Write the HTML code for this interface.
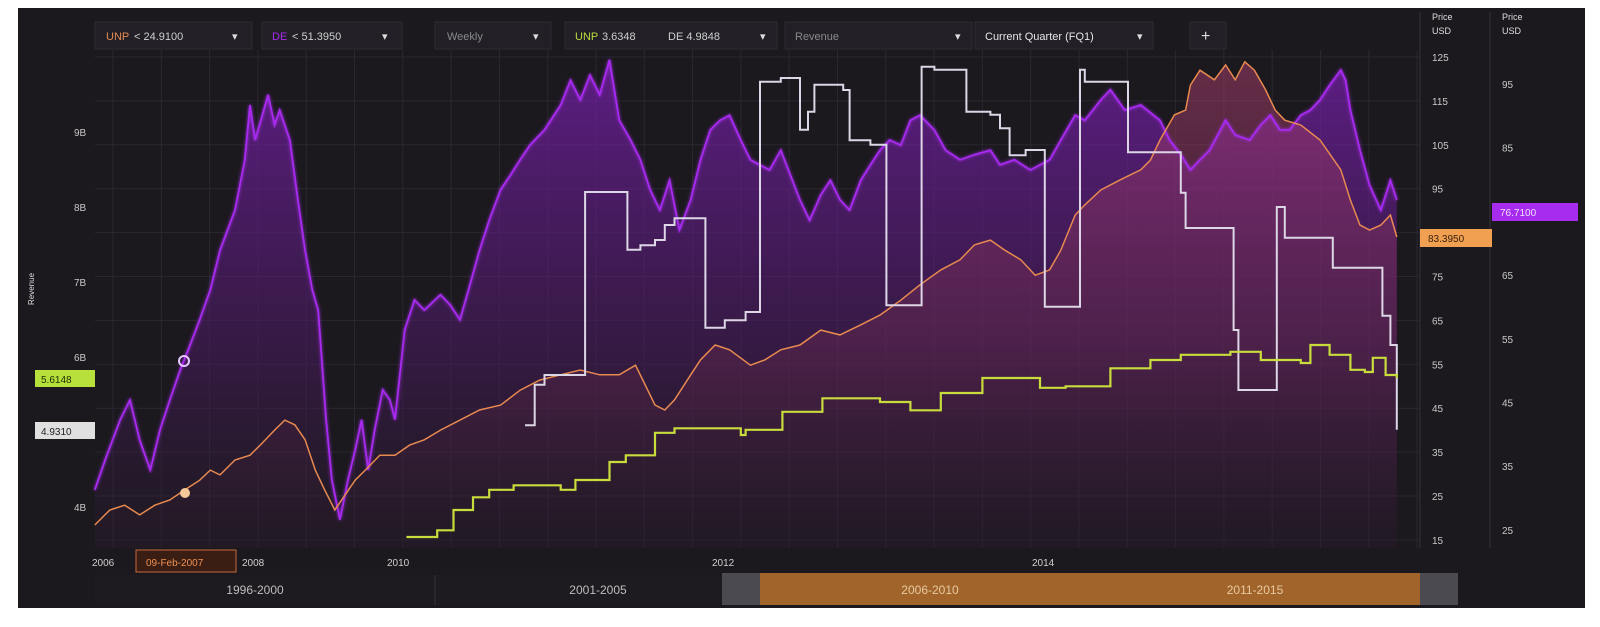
<!DOCTYPE html>
<html><head><meta charset="utf-8"><style>
body{margin:0;background:#fff;width:1600px;height:627px;overflow:hidden;font-family:"Liberation Sans",sans-serif;position:relative}
svg{display:block}
text{font-family:"Liberation Sans",sans-serif}
</style></head><body>
<svg id="c" width="1600" height="627" style="position:absolute;left:0;top:0">
<defs>
<linearGradient id="gp" x1="0" y1="0" x2="0" y2="1"><stop offset="0" stop-color="#7a1fb0" stop-opacity="0.7"/><stop offset="0.6" stop-color="#4a1a60" stop-opacity="0.55"/><stop offset="1" stop-color="#2a1a30" stop-opacity="0.25"/></linearGradient>
<linearGradient id="go" x1="0" y1="0" x2="0" y2="1"><stop offset="0" stop-color="#b04070" stop-opacity="0.5"/><stop offset="0.6" stop-color="#6a2a50" stop-opacity="0.4"/><stop offset="1" stop-color="#2a1a2a" stop-opacity="0.2"/></linearGradient>
<filter id="glow" x="-5%" y="-5%" width="110%" height="110%"><feGaussianBlur stdDeviation="1.5" result="b"/><feMerge><feMergeNode in="b"/><feMergeNode in="SourceGraphic"/></feMerge></filter>
</defs>
<rect x="18" y="8" width="1567" height="600" fill="#1b191e"/>
<g id="grid"></g>
<g id="fills"></g>
<g id="lines"></g>
<g id="axes"></g>
</svg>
<script>
const purpleDates=[2005.93,2006.07,2006.27,2006.4,2006.53,2006.67,2006.8,2006.93,2007.07,2007.2,2007.33,2007.47,2007.6,2007.8,2007.93,2008.0,2008.07,2008.17,2008.25,2008.34,2008.41,2008.55,2008.66,2008.76,2008.86,2008.94,2008.99,2009.05,2009.13,2009.24,2009.35,2009.45,2009.54,2009.63,2009.72,2009.83,2009.93,2010.0,2010.06,2010.12,2010.18,2010.28,2010.34,2010.4,2010.46,2010.52,2010.58,2010.65,2010.71,2010.77,2010.83,2010.92,2011.02,2011.08,2011.14,2011.2,2011.26,2011.32,2011.38,2011.45,2011.51,2011.57,2011.63,2011.69,2011.75,2011.82,2011.88,2011.94,2012.0,2012.06,2012.13,2012.19,2012.25,2012.31,2012.38,2012.44,2012.5,2012.56,2012.63,2012.69,2012.75,2012.81,2012.88,2012.94,2013.0,2013.06,2013.13,2013.19,2013.25,2013.34,2013.41,2013.5,2013.59,2013.69,2013.75,2013.84,2013.94,2014.06,2014.13,2014.22,2014.28,2014.38,2014.44,2014.53,2014.63,2014.75,2014.81,2014.88,2014.94,2015.0,2015.06,2015.16,2015.22,2015.31,2015.38,2015.44,2015.5,2015.56,2015.63,2015.69,2015.75,2015.81,2015.88,2015.91,2015.94,2016.0,2016.06,2016.13,2016.19,2016.23];
const purpleValues=[31.3,36.0,42.3,45.4,39.1,34.4,40.7,45.4,50.1,54.0,58.0,62.7,68.9,75.2,83.1,91.7,86.2,90.1,93.3,88.6,90.9,86.2,76.8,68.9,62.7,59.5,51.7,42.3,32.8,26.6,32.8,37.5,42.3,34.4,40.7,47.0,45.4,42.3,56.4,61.1,59.5,61.9,60.3,58.0,63.4,68.9,73.6,78.4,80.7,83.1,85.4,87.8,91.7,95.6,92.5,96.4,93.3,98.8,89.3,86.2,83.1,78.4,75.2,79.9,72.1,76.8,83.1,87.8,89.3,90.1,86.2,83.1,82.3,81.5,84.6,80.7,76.8,73.6,77.6,79.9,76.8,75.2,79.9,82.3,84.6,86.2,85.4,89.3,90.1,87.8,84.6,83.1,83.9,84.6,82.3,83.1,81.5,83.1,86.2,90.1,89.3,92.5,94.1,90.9,91.7,89.3,86.2,83.9,81.5,83.1,84.6,89.3,87.0,86.2,88.6,90.1,87.8,87.8,90.1,90.9,92.5,94.8,97.2,95.6,90.9,84.6,79.1,75.2,79.9,76.8];
const orangeDates=[2005.93,2006.13,2006.33,2006.53,2006.73,2006.93,2007.13,2007.33,2007.47,2007.6,2007.8,2008.0,2008.14,2008.34,2008.48,2008.62,2008.76,2008.9,2009.03,2009.17,2009.31,2009.45,2009.59,2009.79,2010.0,2010.09,2010.18,2010.28,2010.4,2010.52,2010.65,2010.77,2010.89,2011.02,2011.14,2011.26,2011.38,2011.48,2011.54,2011.6,2011.66,2011.72,2011.82,2011.88,2011.97,2012.06,2012.19,2012.28,2012.38,2012.5,2012.63,2012.75,2012.88,2013.0,2013.13,2013.25,2013.38,2013.5,2013.59,2013.69,2013.78,2013.88,2013.97,2014.06,2014.13,2014.22,2014.28,2014.38,2014.5,2014.63,2014.69,2014.75,2014.84,2014.91,2014.94,2015.0,2015.09,2015.16,2015.22,2015.28,2015.34,2015.41,2015.47,2015.53,2015.63,2015.75,2015.88,2015.94,2016.0,2016.06,2016.13,2016.19,2016.23];
const orangeValues=[18.4,21.8,22.9,20.7,22.9,24.1,26.4,28.6,30.9,29.8,33.2,34.3,36.6,40.0,42.3,41.2,37.8,30.9,26.4,21.8,25.2,28.6,30.9,34.3,34.3,36.6,37.8,40.0,42.3,44.6,45.7,49.1,51.4,52.6,53.7,52.6,52.6,54.8,50.3,45.7,44.6,46.9,52.6,56.0,59.4,58.3,54.8,56.0,58.3,59.4,62.8,61.7,64.0,66.2,69.6,73.1,76.5,78.8,82.2,83.3,81.0,78.8,75.3,76.5,81.0,89.0,91.3,94.7,97.0,99.3,101.5,106.1,111.8,112.9,118.6,122.0,119.8,123.2,119.8,123.9,122.0,117.5,112.9,110.6,109.5,106.1,99.3,92.4,86.7,85.6,86.7,89.0,84.0];
const whiteDates=[2010.8,2010.86,2010.92,2011.17,2011.43,2011.51,2011.6,2011.66,2011.72,2011.91,2012.03,2012.16,2012.25,2012.38,2012.5,2012.55,2012.59,2012.77,2012.81,2012.94,2013.04,2013.26,2013.34,2013.54,2013.69,2013.75,2013.81,2013.91,2014.03,2014.25,2014.28,2014.55,2014.88,2014.91,2015.21,2015.24,2015.48,2015.53,2015.83,2016.14,2016.19,2016.23];
const whiteValues=[5.09,5.63,5.76,8.2,7.43,7.49,7.56,7.76,7.85,6.39,6.49,6.6,9.67,9.72,9.03,9.27,9.63,9.56,8.89,8.83,6.69,9.87,9.83,9.27,9.23,9.05,8.69,8.76,6.67,9.83,9.67,8.73,8.19,7.72,6.36,5.56,8.0,7.59,7.19,6.55,6.16,5.03];
const greenDates=[2010.07,2010.26,2010.36,2010.48,2010.58,2010.73,2011.02,2011.11,2011.32,2011.42,2011.6,2011.72,2012.13,2012.16,2012.39,2012.64,2013.0,2013.19,2013.38,2013.64,2014.0,2014.16,2014.44,2014.69,2014.88,2015.19,2015.38,2015.63,2015.69,2015.81,2015.94,2016.03,2016.08,2016.16,2016.23];
const greenValues=[3.6,3.69,3.96,4.13,4.23,4.29,4.23,4.36,4.6,4.69,4.99,5.05,4.96,5.03,5.27,5.45,5.4,5.29,5.52,5.72,5.59,5.61,5.85,5.96,6.03,6.07,5.96,5.92,6.16,6.03,5.83,5.8,5.99,5.76,5.72];
const yearTicks=[2006,2008,2010,2012,2014];
const priceTicksA=[125,115,105,95,75,65,55,45,35,25,15];
const priceTicksB=[95,85,65,55,45,35,25];
const revenueTicks=[9,8,7,6,4];

const NS="http://www.w3.org/2000/svg";
const XD=[2006,2008,2010,2012,2014,2016.25], XR=[100,250,395,720,1040,1400];
function xS(t){let i=0;while(i<XD.length-2&&t>XD[i+1])i++;return XR[i]+(t-XD[i])/(XD[i+1]-XD[i])*(XR[i+1]-XR[i]);}
const yA=v=>57+(125-v)*4.39, yB=v=>84+(95-v)*6.37, yR=v=>357+(6-v)*75;
const BOT=548;
function mk(tag,at,parent,txt){const e=document.createElementNS(NS,tag);for(const k in at)e.setAttribute(k,at[k]);if(txt!=null)e.textContent=txt;document.getElementById(parent).appendChild(e);return e;}
for(let x=113;x<1420;x+=48.3){const g=mk('line',{x1:x,y1:50,x2:x,y2:BOT,stroke:'#2a282f','stroke-width':1},'grid');

}
priceTicksA.concat([85]).forEach(v=>{const g=mk('line',{x1:95,y1:yA(v),x2:1420,y2:yA(v),stroke:'#2a282f','stroke-width':1},'grid');

});
function linePath(D,V,ys){return D.map((d,i)=>(i?'L':'M')+xS(d).toFixed(1)+','+ys(V[i]).toFixed(1)).join('');}
function stepPath(D,V,ys){let p='';D.forEach((d,i)=>{const x=xS(d).toFixed(1),y=ys(V[i]).toFixed(1);if(!i)p+='M'+x+','+y;else p+='H'+x+'V'+y;});return p;}
const pp=linePath(purpleDates,purpleValues,yB), op=linePath(orangeDates,orangeValues,yA);
let f=mk('path',{d:pp+'L'+xS(purpleDates[purpleDates.length-1])+','+BOT+'L'+xS(purpleDates[0])+','+BOT+'Z',fill:'url(#gp)'},'fills');


f=mk('path',{d:op+'L'+xS(orangeDates[orangeDates.length-1])+','+BOT+'L'+xS(orangeDates[0])+','+BOT+'Z',fill:'url(#go)'},'fills');


let l=mk('path',{d:pp,fill:'none',stroke:'#a82cf0','stroke-width':1.8,filter:'url(#glow)'},'lines');


l=mk('path',{d:op,fill:'none',stroke:'#e88a50','stroke-width':1.5},'lines');


l=mk('path',{d:stepPath(whiteDates,whiteValues,yR),fill:'none',stroke:'#dcd6e6','stroke-width':2},'lines');


l=mk('path',{d:stepPath(greenDates,greenValues,yR),fill:'none',stroke:'#c8dc3c','stroke-width':2.2},'lines');


let m=mk('circle',{cx:184,cy:361,r:5,fill:'none',stroke:'#e6c8ff','stroke-width':2},'lines');


m=mk('circle',{cx:185,cy:493,r:5,fill:'#f5c89a'},'lines');


mk('line',{x1:1420,y1:12,x2:1420,y2:548,stroke:'#34323a'},'axes');
mk('line',{x1:1490,y1:12,x2:1490,y2:548,stroke:'#34323a'},'axes');
priceTicksA.forEach(v=>{const t=mk('text',{x:1432,y:yA(v)+4,fill:'#c8c8c8','font-size':10},'axes',String(v));

});
priceTicksB.forEach(v=>{const t=mk('text',{x:1502,y:yB(v)+4,fill:'#c8c8c8','font-size':10},'axes',String(v));

});
revenueTicks.forEach(v=>{const t=mk('text',{x:74,y:yR(v)+4,fill:'#c8c8c8','font-size':10},'axes',v+'B');

});
yearTicks.forEach(v=>{const t=mk('text',{x:xS(v)-8,y:566,fill:'#d0d0d0','font-size':10},'axes',String(v));

});
</script>
<svg width="1600" height="627" style="position:absolute;left:0;top:0">
<g font-size="11" font-family="Liberation Sans">
<rect x="95" y="22" width="157" height="27" fill="#222026" stroke="#2e2c33"/>
<text x="106" y="40" fill="#e88a50">UNP</text><text x="134" y="40" fill="#cfcfcf">&lt; 24.9100</text><text x="232" y="40" fill="#ddd">▾</text>
<rect x="262" y="22" width="140" height="27" fill="#222026" stroke="#2e2c33"/>
<text x="272" y="40" fill="#a82cf0">DE</text><text x="292" y="40" fill="#cfcfcf">&lt; 51.3950</text><text x="382" y="40" fill="#ddd">▾</text>
<rect x="435" y="22" width="116" height="27" fill="#222026" stroke="#2e2c33"/>
<text x="447" y="40" fill="#8a8a8a">Weekly</text><text x="533" y="40" fill="#ddd">▾</text>
<rect x="565" y="22" width="212" height="27" fill="#222026" stroke="#2e2c33"/>
<text x="575" y="40" fill="#b8dc3c">UNP</text><text x="602" y="40" fill="#cfcfcf">3.6348</text><text x="668" y="40" fill="#cfcfcf">DE 4.9848</text><text x="760" y="40" fill="#ddd">▾</text>
<rect x="785" y="22" width="187" height="27" fill="#222026" stroke="#2e2c33"/>
<text x="795" y="40" fill="#8a8a8a">Revenue</text><text x="955" y="40" fill="#ddd">▾</text>
<rect x="975" y="22" width="178" height="27" fill="#222026" stroke="#2e2c33"/>
<text x="985" y="40" fill="#e6e6e6">Current Quarter (FQ1)</text><text x="1137" y="40" fill="#ddd">▾</text>
<rect x="1190" y="22" width="36" height="27" fill="#222026" stroke="#2e2c33"/>
<text x="1201" y="41" fill="#ddd" font-size="16">+</text>
</g>
<g font-size="9" fill="#ddd" font-family="Liberation Sans">
<text x="1432" y="20">Price</text><text x="1432" y="34">USD</text>
<text x="1502" y="20">Price</text><text x="1502" y="34">USD</text>
</g>
<rect x="1420" y="229" width="72" height="18" fill="#f0a050"/>
<text x="1428" y="242" font-size="10" fill="#3a2010" font-family="Liberation Sans">83.3950</text>
<rect x="1492" y="203" width="86" height="18" fill="#a82cf0"/>
<text x="1500" y="216" font-size="10" fill="#f0e0ff" font-family="Liberation Sans">76.7100</text>
<rect x="35" y="370" width="60" height="17" fill="#b8e03c"/>
<text x="41" y="383" font-size="10" fill="#203000" font-family="Liberation Sans">5.6148</text>
<rect x="35" y="422" width="60" height="17" fill="#e0e0e0"/>
<text x="41" y="435" font-size="10" fill="#222" font-family="Liberation Sans">4.9310</text>
<text x="0" y="0" transform="translate(34,305) rotate(-90)" font-size="8" fill="#ddd" font-family="Liberation Sans">Revenue</text>
<rect x="136" y="550" width="100" height="22" fill="#3a1e14" stroke="#c8683a"/>
<text x="146" y="566" font-size="10" fill="#f09050" font-family="Liberation Sans">09-Feb-2007</text>
<g>
<rect x="95" y="575" width="627" height="30" fill="#1f1d22" opacity="0.6"/>
<rect x="722" y="573" width="38" height="32" fill="#4a4a50"/>
<rect x="760" y="573" width="660" height="32" fill="#b8732e" opacity="0.85"/>
<rect x="1420" y="573" width="38" height="32" fill="#4a4a50"/>
<line x1="435" y1="575" x2="435" y2="605" stroke="#333"/>
</g>
<g font-size="12" font-family="Liberation Sans" text-anchor="middle">
<text x="255" y="594" fill="#bdbdbd">1996-2000</text>
<text x="598" y="594" fill="#bdbdbd">2001-2005</text>
<text x="930" y="594" fill="#e8c9a0">2006-2010</text>
<text x="1255" y="594" fill="#e8c9a0">2011-2015</text>
</g>
</svg>
</body></html>
